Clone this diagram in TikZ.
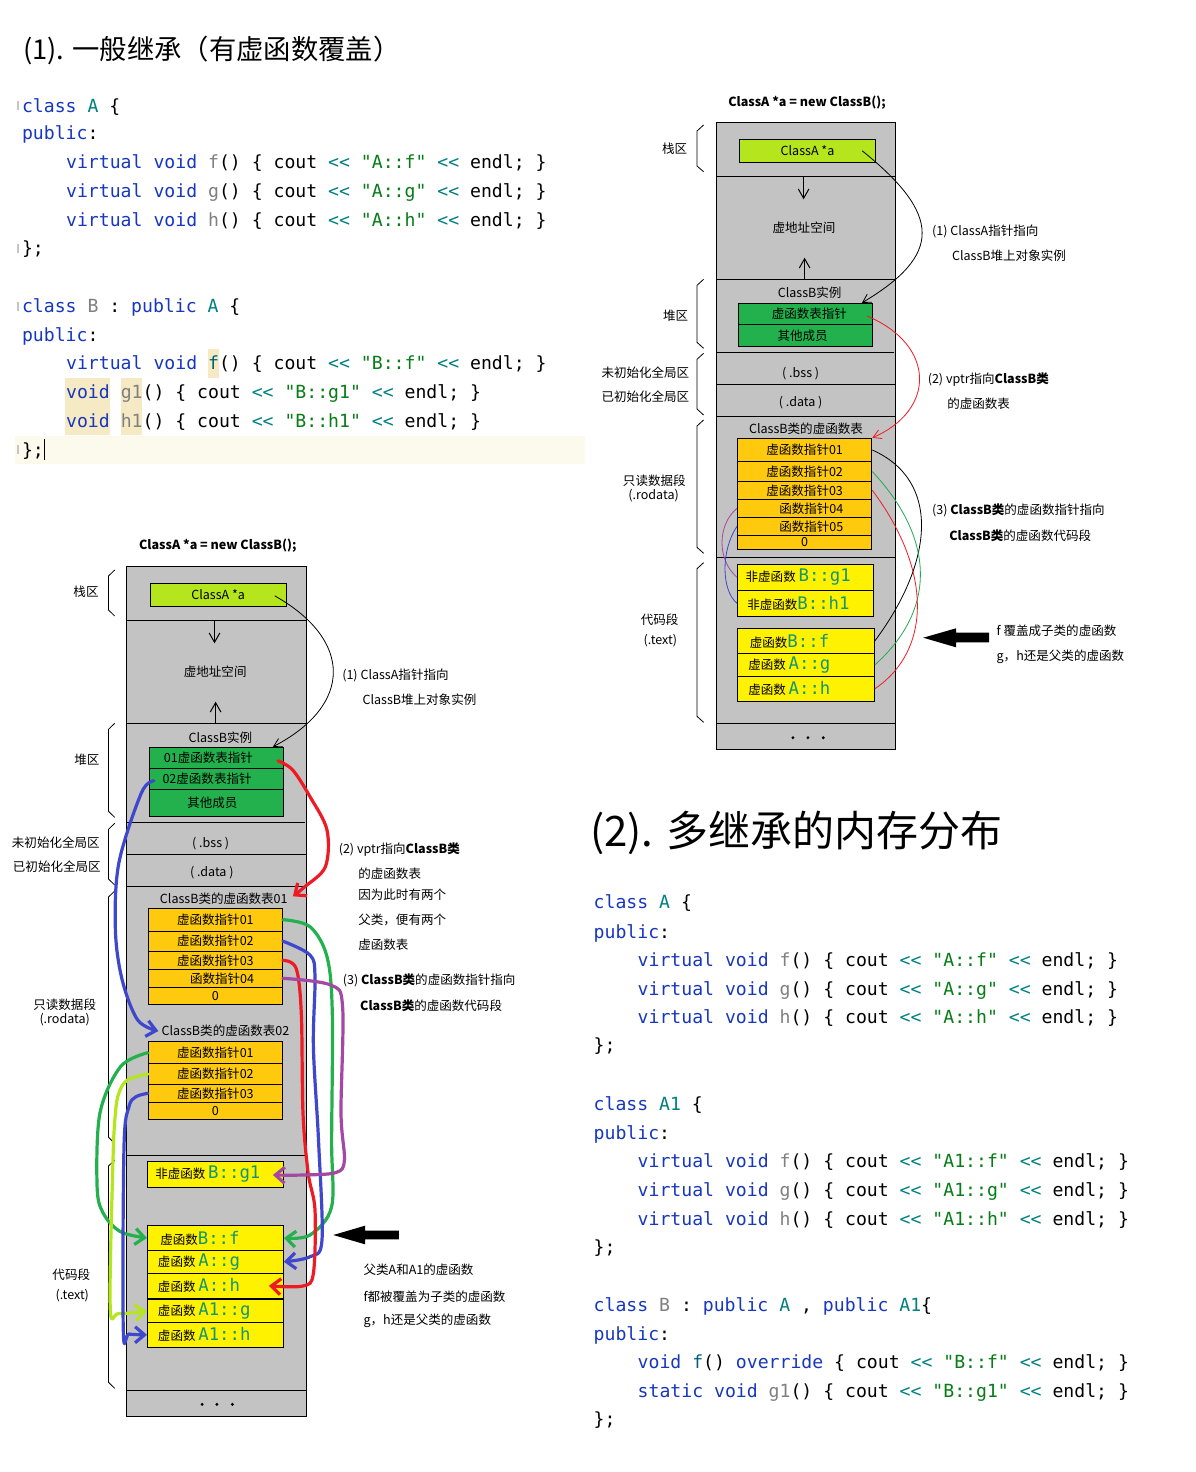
\documentclass[tikz,border=0pt]{standalone}
\usepackage{fontspec}
\setmainfont{Noto Sans CJK SC}
\setmonofont{DejaVu Sans Mono}
\usetikzlibrary{arrows.meta,fit,calc}
\definecolor{pgray}{RGB}{195,195,195}
\definecolor{plime}{RGB}{181,230,29}
\definecolor{pgreen}{RGB}{34,177,76}
\definecolor{porange}{RGB}{255,201,14}
\definecolor{pyellow}{RGB}{255,242,0}
\definecolor{kwc}{RGB}{23,55,190}
\definecolor{clsc}{RGB}{0,128,128}
\definecolor{fng}{RGB}{128,128,128}
\definecolor{strg}{RGB}{6,125,23}
\definecolor{opc}{RGB}{0,128,128}
\definecolor{fdef}{RGB}{0,98,122}
\definecolor{boxt}{RGB}{20,150,110}
\definecolor{hlc}{RGB}{245,234,196}
\definecolor{curl}{RGB}{252,250,237}
\definecolor{pred}{RGB}{237,28,36}
\definecolor{pblue}{RGB}{63,72,204}
\definecolor{ppurple}{RGB}{163,73,164}
\definecolor{tgreen}{RGB}{34,170,80}
\newcommand\kwd[1]{\textcolor{kwc}{#1}}
\newcommand\cln[1]{\textcolor{clsc}{#1}}
\newcommand\fnc[1]{\textcolor{fng}{#1}}
\newcommand\fdf[1]{\textcolor{fdef}{#1}}
\newcommand\strl[1]{\textcolor{strg}{#1}}
\newcommand\opl{\textcolor{opc}{<<}}
\newcommand\bxc[1]{{\ttfamily\fontsize{13}{15}\selectfont\color{boxt}#1}}
\tikzset{
  lbl/.style={inner sep=0pt, font=\fontsize{9.4}{11}\selectfont},
  ttl/.style={inner sep=0pt, font=\bfseries\fontsize{9.4}{11}\selectfont},
  cell/.style={draw, line width=0.75pt, inner sep=0pt},
  code/.style={inner sep=0pt, anchor=base west, font=\ttfamily\fontsize{13.6}{16}\selectfont},
  sep/.style={line width=0.75pt},
  brace/.style={line width=0.6pt},
  thinpen/.style={line width=0.6pt},
  fat/.style={line width=2.4pt, line cap=round, line join=round},
  thinhead/.style={-{Straight Barb[length=6pt,width=7pt]}},
  midhead/.style={-{Straight Barb[length=7pt,width=8pt]}},
  fathead/.style={-{Straight Barb[length=7pt,width=12pt]}}
}
\begin{document}
\begin{tikzpicture}[x=0.75pt,y=-0.75pt]
\useasboundingbox (0,0) rectangle (1196,1472);
\fill[white] (0,0) rectangle (1196,1472);

% ================= code block 1 =================
\node[anchor=west, inner sep=0pt, font=\fontsize{20.5}{23}\selectfont] (t1) at (23,50.7) {(1). 一般继承（有虚函数覆盖）};
\fill[curl] (15,436) rectangle (585,463.5);
\fill[hlc] (208,349) rectangle (219,377.5);
\fill[hlc] (65,377.7) rectangle (109.6,435);
\fill[hlc] (120.5,377.7) rectangle (142.4,435);
\foreach \yy in {101,244,302,445} \draw[gray!45, line width=1pt] (18,\yy) -- (18,\yy+9);
\node[code] (c1) at (21.8,112) {\kwd{class} \cln{A} \{};
\node[code] (c2) at (21.8,139.3) {\kwd{public}:};
\node[code] (c3) at (65.9,168.3) {\kwd{virtual} \kwd{void} \fnc{f}() \{ cout \opl{} \strl{"A::f"} \opl{} endl; \}};
\node[code] (c4) at (65.9,197) {\kwd{virtual} \kwd{void} \fnc{g}() \{ cout \opl{} \strl{"A::g"} \opl{} endl; \}};
\node[code] (c5) at (65.9,226) {\kwd{virtual} \kwd{void} \fnc{h}() \{ cout \opl{} \strl{"A::h"} \opl{} endl; \}};
\node[code] (c6) at (21.8,254.3) {\};};
\node[code] (c7) at (21.8,312.7) {\kwd{class} \fnc{B} : \kwd{public} \cln{A} \{};
\node[code] (c8) at (21.8,341) {\kwd{public}:};
\node[code] (c9) at (65.9,369.3) {\kwd{virtual} \kwd{void} \fdf{f}() \{ cout \opl{} \strl{"B::f"} \opl{} endl; \}};
\node[code] (c10) at (65.9,398.3) {\kwd{void} \fnc{g1}() \{ cout \opl{} \strl{"B::g1"} \opl{} endl; \}};
\node[code] (c11) at (65.9,427) {\kwd{void} \fnc{h1}() \{ cout \opl{} \strl{"B::h1"} \opl{} endl; \}};
\node[code] (c12) at (21.8,456) {\};};
\draw[line width=1pt] (44.5,439) -- (44.5,460);

% ================= code block 2 =================
\node[anchor=west, inner sep=0pt, font=\fontsize{31.5}{36}\selectfont] (t2) at (590,833) {(2). 多继承的内存分布};
\node[code] (d1) at (593.4,908.6) {\kwd{class} \cln{A} \{};
\node[code] (d2) at (593.4,938.4) {\kwd{public}:};
\node[code] (d3) at (637.4,966.5) {\kwd{virtual} \kwd{void} \fnc{f}() \{ cout \opl{} \strl{"A::f"} \opl{} endl; \}};
\node[code] (d4) at (637.4,995.5) {\kwd{virtual} \kwd{void} \fnc{g}() \{ cout \opl{} \strl{"A::g"} \opl{} endl; \}};
\node[code] (d5) at (637.4,1023.7) {\kwd{virtual} \kwd{void} \fnc{h}() \{ cout \opl{} \strl{"A::h"} \opl{} endl; \}};
\node[code] (d6) at (593.4,1051) {\};};
\node[code] (d7) at (593.4,1110.2) {\kwd{class} \cln{A1} \{};
\node[code] (d8) at (593.4,1139.2) {\kwd{public}:};
\node[code] (d9) at (637.4,1167.4) {\kwd{virtual} \kwd{void} \fnc{f}() \{ cout \opl{} \strl{"A1::f"} \opl{} endl; \}};
\node[code] (d10) at (637.4,1196.4) {\kwd{virtual} \kwd{void} \fnc{g}() \{ cout \opl{} \strl{"A1::g"} \opl{} endl; \}};
\node[code] (d11) at (637.4,1225.4) {\kwd{virtual} \kwd{void} \fnc{h}() \{ cout \opl{} \strl{"A1::h"} \opl{} endl; \}};
\node[code] (d12) at (593.4,1253) {\};};
\node[code] (d13) at (593.4,1311) {\kwd{class} \fnc{B} : \kwd{public} \cln{A} , \kwd{public} \cln{A1}\{};
\node[code] (d14) at (593.4,1340) {\kwd{public}:};
\node[code] (d15) at (637.4,1368.2) {\kwd{void} \fdf{f}() \kwd{override} \{ cout \opl{} \strl{"B::f"} \opl{} endl; \}};
\node[code] (d16) at (637.4,1397.2) {\kwd{static} \kwd{void} \fnc{g1}() \{ cout \opl{} \strl{"B::g1"} \opl{} endl; \}};
\node[code] (d17) at (593.4,1425) {\};};

% ================= top-right diagram =================
\node[ttl] (trT) at (807,102.3) {ClassA *a = new ClassB();};
\draw[fill=pgray, line width=0.75pt] (716.8,122.3) rectangle (895.7,749.3);
\foreach \yy in {176.3,279.3,384.3,416.3,557,723.3} \draw[sep] (716.8,\yy) -- (895.7,\yy);
\draw[sep] (716.8,352.3) -- (893.6,352.3);
\node[cell, fill=plime, fit={(739.3,139.3) (875.7,162.3)}] (trA) {};
\node[lbl] (trAt) at (trA.center) {ClassA *a};
\coordinate (trd1) at (803.6,176.3); \coordinate (trd2) at (803.6,199.3);
\draw[sep, midhead] (trd1) -- (trd2);
\node[lbl] (trVA) at (804,227.7) {虚地址空间};
\coordinate (tru1) at (804.6,279.3); \coordinate (tru2) at (804.6,257.7);
\draw[sep, midhead] (tru1) -- (tru2);
\node[lbl] (trBI) at (809.6,292.7) {ClassB实例};
\node[cell, fill=pgreen, fit={(738.2,303.3) (872.5,324.7)}] (trV) {};
\node[cell, fill=pgreen, fit={(738.2,324.7) (872.5,346.3)}] (trO) {};
\node[lbl] (trVt) at ([xshift=3]trV.center) {虚函数表指针};
\node[lbl] (trOt) at ([xshift=-2]trO.center) {其他成员};
\node[lbl] (trbss) at (800.7,373.7) {( .bss )};
\node[lbl] (trdata) at (800.7,402.3) {( .data )};
\node[lbl] (trVT) at (806,428.3) {ClassB类的虚函数表};
\node[cell, fill=porange, fit={(737.5,438.3) (871.8,461.7)}] (trr1) {};
\node[cell, fill=porange, fit={(737.5,461.7) (871.8,481.3)}] (trr2) {};
\node[cell, fill=porange, fit={(737.5,481.3) (871.8,499.3)}] (trr3) {};
\node[cell, fill=porange, fit={(737.5,499.3) (871.8,517.3)}] (trr4) {};
\node[cell, fill=porange, fit={(737.5,517.3) (871.8,535.3)}] (trr5) {};
\node[cell, fill=porange, fit={(737.5,535.3) (871.8,549.3)}] (trr6) {};
\node[lbl] (trr1t) at (trr1.center) {虚函数指针01};
\node[lbl] (trr2t) at (trr2.center) {虚函数指针02};
\node[lbl] (trr3t) at (trr3.center) {虚函数指针03};
\node[lbl] (trr4t) at ([xshift=5]trr4.center) {函数指针04};
\node[lbl] (trr5t) at ([xshift=5]trr5.center) {函数指针05};
\node[lbl] (trr6t) at (trr6.center) {0};
\node[cell, fill=pyellow, fit={(737.5,564.3) (873.2,590.3)}] (trg1) {};
\node[cell, fill=pyellow, fit={(737.5,590.3) (873.2,616.3)}] (trh1) {};
\node[cell, fill=pyellow, fit={(737.5,628.3) (874.3,653.7)}] (trf) {};
\node[cell, fill=pyellow, fit={(737.5,653.7) (874.3,676.3)}] (trg) {};
\node[cell, fill=pyellow, fit={(737.5,676.3) (874.3,701.3)}] (trh) {};
\node[lbl, anchor=west] (trg1t) at (745.4,577.3) {非虚函数 \bxc{B::g1}};
\node[lbl, anchor=west] (trh1t) at (747,603.3) {非虚函数\bxc{B::h1}};
\node[lbl, anchor=west] (trft) at (749.6,641) {虚函数\bxc{B::f}};
\node[lbl, anchor=west] (trgt) at (748,665) {虚函数 \bxc{A::g}};
\node[lbl, anchor=west] (trht) at (748,688.8) {虚函数 \bxc{A::h}};
\foreach \xx in {792.9,807.9,823.2} \fill (\xx,737.7) circle (1.6);
% braces and region labels
\draw[brace] (703.6,125) -- (697,131) -- (697,166) -- (703.6,171.7);
\draw[brace] (703.6,279.3) -- (697,285.3) -- (697,342.3) -- (703.6,348.3);
\draw[brace] (703.6,353.3) -- (697,359.3) -- (697,409) -- (703.6,415);
\draw[brace] (703.6,420) -- (697,426) -- (697,547.3) -- (703.6,553.3);
\draw[brace] (703.6,562.7) -- (697,568.7) -- (697,716.3) -- (703.6,722.3);
\node[lbl] (trL1) at (674.6,148.3) {栈区};
\node[lbl] (trL2) at (675.7,316) {堆区};
\node[lbl] (trL3) at (645.4,372.3) {未初始化全局区};
\node[lbl] (trL4) at (645.4,396.7) {已初始化全局区};
\node[lbl] (trL5) at (654.3,481) {只读数据段};
\node[lbl] (trL6) at (653.6,496) {(.rodata)};
\node[lbl] (trL7) at (659.6,619.3) {代码段};
\node[lbl] (trL8) at (660.4,640.7) {(.text)};
% annotations
\node[lbl, anchor=west] (trN1) at (931.8,231.7) {(1) ClassA指针指向};
\node[lbl, anchor=west] (trN2) at (951.8,255.7) {ClassB堆上对象实例};
\node[lbl, anchor=west] (trN3) at (927.5,379.3) {(2) vptr指向\textbf{ClassB类}};
\node[lbl, anchor=west] (trN4) at (947,403.3) {的虚函数表};
\node[lbl, anchor=west] (trN5) at (931.8,510.7) {(3) \textbf{ClassB类}的虚函数指针指向};
\node[lbl, anchor=west] (trN6) at (949,536) {\textbf{ClassB类}的虚函数代码段};
\node[lbl, anchor=west] (trN7) at (996.4,631) {f 覆盖成子类的虚函数};
\node[lbl, anchor=west] (trN8) at (996.4,656.7) {g，h还是父类的虚函数};
\fill (923.2,637.7) -- (956,628.3) -- (956,632.7) -- (989,632.7) -- (989,642.3) -- (956,642.3) -- (956,647.3) -- cycle;
% connectors
\draw[thinpen, thinhead] ($(trA.east)+(-14,0)$) .. controls (942,215) and (942,255) .. ($(trV.north east)+(-11,0)$);
\draw[thinpen, pred, thinhead] ($(trV.east)+(-6,2)$) .. controls (936,345) and (936,410) .. (trr1.north east);
\draw[thinpen] (trr1.east) .. controls (940,480) and (935,560) .. (trf.east);
\draw[thinpen, tgreen] (trr2.east) .. controls (936,540) and (936,610) .. (trg.east);
\draw[thinpen, pred] (trr3.east) .. controls (932,570) and (932,650) .. (trh.east);
\draw[thinpen, ppurple] (trr4.west) .. controls (717,525) and (717,560) .. (trg1.west);
\draw[thinpen, pblue] (trr5.west) .. controls (721,550) and (721,590) .. (trh1.west);

% ================= bottom-left diagram =================
\node[ttl] (blT) at (217.8,546) {ClassA *a = new ClassB();};
\draw[fill=pgray, line width=0.75pt] (126.5,566) rectangle (306,1416);
\foreach \yy in {620,723.3,854,886,1155,1390} \draw[sep] (126.5,\yy) -- (306,\yy);
\draw[sep] (126.5,822.3) -- (305,822.3);
\node[cell, fill=plime, fit={(150.1,583.3) (286.2,606.3)}] (blA) {};
\node[lbl] (blAt) at (blA.center) {ClassA *a};
\coordinate (bld1) at (214.5,620); \coordinate (bld2) at (214.5,643.3);
\draw[sep, midhead] (bld1) -- (bld2);
\node[lbl] (blVA) at (215.2,671.7) {虚地址空间};
\coordinate (blu1) at (215.6,723.3); \coordinate (blu2) at (215.6,701.7);
\draw[sep, midhead] (blu1) -- (blu2);
\node[lbl] (blBI) at (220.4,737.3) {ClassB实例};
\node[cell, fill=pgreen, fit={(149.4,747.3) (283.4,768.3)}] (blV1) {};
\node[cell, fill=pgreen, fit={(149.4,768.3) (283.4,789.3)}] (blV2) {};
\node[cell, fill=pgreen, fit={(149.4,789.3) (283.4,816)}] (blO) {};
\node[lbl] (blV1t) at ([xshift=-6]blV1.center) {01虚函数表指针};
\node[lbl] (blV2t) at ([xshift=-7]blV2.center) {02虚函数表指针};
\node[lbl] (blOt) at ([xshift=-3]blO.center) {其他成员};
\node[lbl] (blbss) at (210.7,843.3) {( .bss )};
\node[lbl] (bldata) at (211.8,872.3) {( .data )};
\node[lbl] (blT1) at (223.8,898.3) {ClassB类的虚函数表01};
\node[cell, fill=porange, fit={(148.4,908.3) (282.4,931)}] (blr1) {};
\node[cell, fill=porange, fit={(148.4,931) (282.4,951.3)}] (blr2) {};
\node[cell, fill=porange, fit={(148.4,951.3) (282.4,969.3)}] (blr3) {};
\node[cell, fill=porange, fit={(148.4,969.3) (282.4,987.3)}] (blr4) {};
\node[cell, fill=porange, fit={(148.4,987.3) (282.4,1004)}] (blr5) {};
\node[lbl] (blr1t) at (blr1.center) {虚函数指针01};
\node[lbl] (blr2t) at (blr2.center) {虚函数指针02};
\node[lbl] (blr3t) at (blr3.center) {虚函数指针03};
\node[lbl] (blr4t) at ([xshift=5]blr4.center) {函数指针04};
\node[lbl] (blr5t) at (blr5.center) {0};
\node[lbl] (blT2) at (225.5,1031) {ClassB类的虚函数表02};
\node[cell, fill=porange, fit={(148.4,1041.7) (282.4,1063.7)}] (bls1) {};
\node[cell, fill=porange, fit={(148.4,1063.7) (282.4,1084.3)}] (bls2) {};
\node[cell, fill=porange, fit={(148.4,1084.3) (282.4,1102.3)}] (bls3) {};
\node[cell, fill=porange, fit={(148.4,1102.3) (282.4,1119.3)}] (bls4) {};
\node[lbl] (bls1t) at (bls1.center) {虚函数指针01};
\node[lbl] (bls2t) at (bls2.center) {虚函数指针02};
\node[lbl] (bls3t) at (bls3.center) {虚函数指针03};
\node[lbl] (bls4t) at (bls4.center) {0};
\node[cell, fill=pyellow, fit={(147.4,1161.7) (283.4,1187.3)}] (blg1) {};
\node[cell, fill=pyellow, fit={(147.4,1225.7) (283.4,1250.3)}] (blf) {};
\node[cell, fill=pyellow, fit={(147.4,1250.3) (283.4,1273.3)}] (blg) {};
\node[cell, fill=pyellow, fit={(147.4,1273.3) (283.4,1298.3)}] (blh) {};
\node[cell, fill=pyellow, fit={(147.4,1299.8) (283.4,1322.3)}] (bla1g) {};
\node[cell, fill=pyellow, fit={(147.4,1322.3) (283.4,1347.3)}] (bla1h) {};
\node[lbl, anchor=west] (blg1t) at (155,1174.5) {非虚函数 \bxc{B::g1}};
\node[lbl, anchor=west] (blft) at (160,1238) {虚函数\bxc{B::f}};
\node[lbl, anchor=west] (blgt) at (157.7,1261.8) {虚函数 \bxc{A::g}};
\node[lbl, anchor=west] (blht) at (157.7,1285.8) {虚函数 \bxc{A::h}};
\node[lbl, anchor=west] (bla1gt) at (157.7,1311) {虚函数 \bxc{A1::g}};
\node[lbl, anchor=west] (bla1ht) at (157.7,1334.8) {虚函数 \bxc{A1::h}};
\foreach \xx in {202.1,216.9,232.4} \fill (\xx,1404.3) circle (1.6);
% braces and region labels
\draw[brace] (114.7,570) -- (108.5,576) -- (108.5,610) -- (114.7,616);
\draw[brace] (114.7,723.3) -- (108.5,729.3) -- (108.5,811.3) -- (114.7,817.3);
\draw[brace] (114.7,823.3) -- (108.5,829.3) -- (108.5,879) -- (114.7,885);
\draw[brace] (114.7,891) -- (108.5,897) -- (108.5,1137.3) -- (114.7,1143.3);
\draw[brace] (114.7,1160) -- (108.5,1166) -- (108.5,1382.3) -- (114.7,1388.3);
\node[lbl] (blL1) at (86,591.7) {栈区};
\node[lbl] (blL2) at (86.8,760) {堆区};
\node[lbl] (blL3) at (55.8,842.3) {未初始化全局区};
\node[lbl] (blL4) at (56.8,866.7) {已初始化全局区};
\node[lbl] (blL5) at (64.7,1005) {只读数据段};
\node[lbl] (blL6) at (64.7,1020) {(.rodata)};
\node[lbl] (blL7) at (71.3,1274.3) {代码段};
\node[lbl] (blL8) at (72.3,1296) {(.text)};
% annotations
\node[lbl, anchor=west] (blN1) at (342,675.3) {(1) ClassA指针指向};
\node[lbl, anchor=west] (blN2) at (362.3,700) {ClassB堆上对象实例};
\node[lbl, anchor=west] (blN3) at (338.5,849.3) {(2) vptr指向\textbf{ClassB类}};
\node[lbl, anchor=west] (blN4) at (358.1,874) {的虚函数表};
\node[lbl, anchor=west] (blN5) at (358.1,895) {因为此时有两个};
\node[lbl, anchor=west] (blN6) at (358.1,920) {父类，便有两个};
\node[lbl, anchor=west] (blN7) at (358.1,945) {虚函数表};
\node[lbl, anchor=west] (blN8) at (342.6,980.7) {(3) \textbf{ClassB类}的虚函数指针指向};
\node[lbl, anchor=west] (blN9) at (359.9,1006) {\textbf{ClassB类}的虚函数代码段};
\node[lbl, anchor=west] (blN10) at (363.3,1270) {父类A和A1的虚函数};
\node[lbl, anchor=west] (blN11) at (363.3,1296.7) {f都被覆盖为子类的虚函数};
\node[lbl, anchor=west] (blN12) at (363.3,1320.7) {g，h还是父类的虚函数};
\fill (333.3,1235) -- (365,1225.7) -- (365,1230.7) -- (398.8,1230.7) -- (398.8,1239.3) -- (365,1239.3) -- (365,1244.3) -- cycle;
% connectors
\draw[thinpen, thinhead] ($(blA.east)+(-12,1)$) .. controls (353,640) and (353,705) .. ($(blV1.north east)+(-11,0)$);
\draw[fat, pred, fathead] plot[smooth, tension=0.55] coordinates {($(blV1.east)+(-6,3)$) (292.7,770) (310,796.7) (327,830) (325.4,866.7) (304.8,886.7) ($(blT1.east)+(5,-2)$)};
\draw[fat, pblue, fathead] plot[smooth, tension=0.55] coordinates {($(blV2.west)+(5,2)$) (141.2,793.3) (118.8,863.3) (115.4,930) (122.2,980) (137.7,1020) ($(blT2.west)+(-3,0)$)};
\draw[fat, pgreen, fathead] plot[smooth, tension=0.55] coordinates {(blr1.east) (310,926.7) (327,956.7) (332.3,1013) (331.6,1140) (331.6,1206.7) (310,1235) (blf.east)};
\draw[fat, pblue, fathead] plot[smooth, tension=0.55] coordinates {(blr2.east) (310,955) (315,976.7) (313.4,1046.7) (318.5,1140) (322,1240) (310,1256.7) (blg.east)};
\draw[fat, pred, fathead] plot[smooth, tension=0.55] coordinates {(blr3.east) (296.1,968.3) (301.3,1013.3) (303,1113.3) (308.2,1173.3) (315,1210) (313.4,1273.3) (303,1286) ($(blh.east)+(-15,0)$)};
\draw[fat, ppurple, fathead] plot[smooth, tension=0.55] coordinates {(blr4.east) (330.6,985) (342.6,1006.7) (341,1113) (344.4,1160) (336,1172.5) (303,1175) ($(blg1.east)+(-11,0.5)$)};
\draw[fat, pgreen, fathead] plot[smooth, tension=0.55] coordinates {(bls1.west) (120.5,1066.7) (99.9,1113.3) (97.1,1186.7) (103.3,1213.3) (120.5,1231.7) (blf.west)};
\draw[fat, plime, fathead] plot[smooth, tension=0.55] coordinates {(bls2.west) (127.4,1080) (118.8,1093.3) (115.4,1113.3) (113,1160) (110.2,1306.7) (118.8,1313.5) (bla1g.west)};
\draw[fat, pblue, fathead] plot[smooth, tension=0.55] coordinates {(bls3.west) (136,1096.7) (129,1106.7) (124,1146.7) (123.3,1330) (129,1334) (bla1h.west)};
\end{tikzpicture}
\end{document}
